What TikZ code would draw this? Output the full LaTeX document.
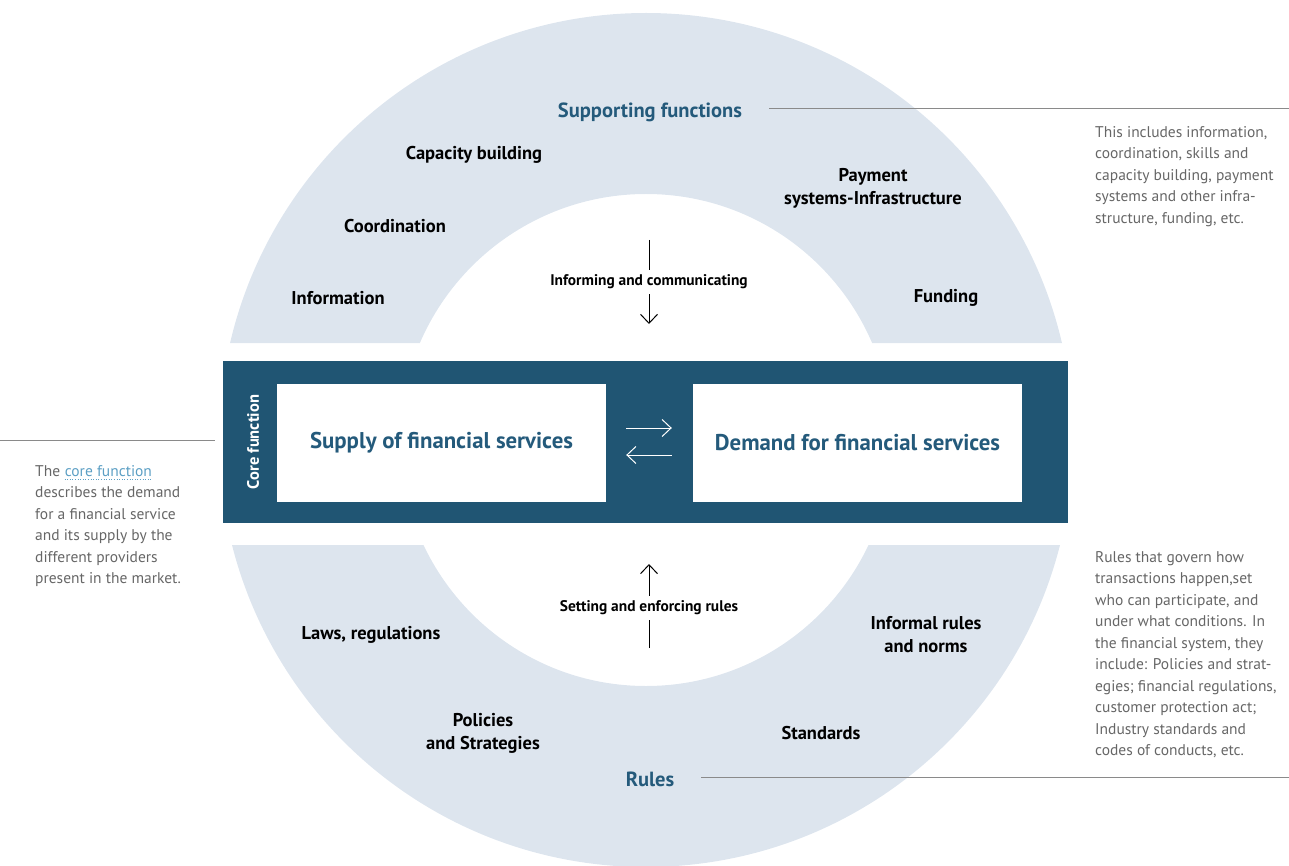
\documentclass[tikz,border=0pt]{standalone}
\usepackage{fontspec}
\setmainfont{PT Sans}
\usetikzlibrary{positioning,arrows.meta}
\definecolor{ringblue}{HTML}{DDE5EE}
\definecolor{coreblue}{HTML}{205573}
\definecolor{headblue}{HTML}{245A7B}
\definecolor{notegray}{HTML}{666666}
\definecolor{linkblue}{HTML}{5C9FC4}
\definecolor{rulegray}{HTML}{8A8A8A}
\newcommand{\dotlink}[1]{\tikz[baseline=(lnk.base)]{\node[inner sep=0pt,text=linkblue] (lnk) {#1};
  \draw[linkblue,dotted,line width=0.6pt] ([yshift=-3pt]lnk.south west) -- ([yshift=-3pt]lnk.south east);}}
\begin{document}
\begin{tikzpicture}
    [
    x=1pt, y=-1pt
    , ringlabel/.style = {font=\fontsize{18.5}{23}\selectfont\bfseries,align=center,inner sep=0pt}
    , headlabel/.style = {font=\fontsize{20.5}{24}\selectfont\bfseries,text=headblue,inner sep=0pt}
    , servicebox/.style = {fill=white,minimum width=329pt,minimum height=118pt,font=\fontsize{22.8}{27}\selectfont\bfseries,text=headblue}
    , flowlabel/.style = {font=\fontsize{15.4}{18}\selectfont\bfseries,inner xsep=0pt,inner ysep=5pt}
    , note/.style = {font=\fontsize{15.5}{21.5}\selectfont,text=notegray,align=left,inner sep=0pt,anchor=north west}
    , flow/.style = {line width=1pt,-{Straight Barb[length=9pt,width=17pt]}}
    ]
\useasboundingbox (0,0) rectangle (1289,866);
% ring of supporting functions and rules
\begin{scope}
\clip (0,0) rectangle (1289,343) (0,545) rectangle (1289,866);
\fill[ringblue,even odd rule] (646,440) circle (427pt) (646,440) circle (246pt);
\end{scope}

% core function
\node[fill=coreblue,minimum width=845pt,minimum height=162pt,inner sep=0pt] (core) at (645.5,442) {};
\node[rotate=90,text=white,font=\fontsize{16.5}{18}\selectfont\bfseries] (corelabel) at (253,442) {Core function};
\node[servicebox] (supply) at (441.5,443) {Supply of financial services};
\node[servicebox] (demand) at (857.5,443) {Demand for financial services};
\draw[flow,white] ([xshift=20pt,yshift=15pt]supply.east) -- ([xshift=-21pt,yshift=15pt]demand.west);
\draw[flow,white] ([xshift=-21pt,yshift=-12pt]demand.west) -- ([xshift=20pt,yshift=-12pt]supply.east);

% supporting functions
\node[headlabel] (supporting) at (650,112) {Supporting functions};
\coordinate (suptail) at (1289,108);
\draw[rulegray,line width=0.8pt] ([xshift=27pt,yshift=4pt]supporting.east) -- (suptail);
\node[ringlabel] (capacity) at (474,155) {Capacity building};
\node[ringlabel] (coordination) at (395,226) {Coordination};
\node[ringlabel] (information) at (338,298) {Information};
\node[ringlabel] (payment) at (873,188) {Payment\\systems-Infrastructure};
\node[ringlabel] (funding) at (946,298) {Funding};

\coordinate (inftop) at (649,240);
\coordinate (infbot) at (649,324);
\node[flowlabel] (inform) at (649,282) {Informing and communicating};
\draw[line width=1pt] (inftop) -- (inform);
\draw[flow] (inform) -- (infbot);

% rules
\node[headlabel] (rules) at (650,779) {Rules};
\coordinate (rulestail) at (1289,777);
\draw[rulegray,line width=0.8pt] ([xshift=27pt,yshift=2pt]rules.east) -- (rulestail);
\node[ringlabel] (laws) at (371,635) {Laws, regulations};
\node[ringlabel] (policies) at (483,733) {Policies\\and Strategies};
\node[ringlabel] (informal) at (926,635) {Informal rules\\and norms};
\node[ringlabel] (standards) at (821,733) {Standards};

\coordinate (settop) at (649,564);
\coordinate (setbot) at (649,648);
\node[flowlabel] (setting) at (649,608) {Setting and enforcing rules};
\draw[line width=1pt] (setbot) -- (setting);
\draw[flow] (setting) -- (settop);

% notes
\coordinate (corehead) at (0,440);
\coordinate (coretail) at (215,440);
\draw[rulegray,line width=0.8pt] (corehead) -- (coretail);
\node[note] (corenote) at (35,465) {The \dotlink{core function}\\describes the demand\\for a financial service\\and its supply by the\\different providers\\present in the market.};
\node[note] (supnote) at (1095,126) {This includes information,\\coordination, skills and\\capacity building, payment\\systems and other infra-\\structure, funding, etc.};
\node[note] (rulesnote) at (1095,551) {Rules that govern how\\transactions happen,set\\who can participate, and\\under what conditions. In\\the financial system, they\\include: Policies and strat-\\egies; financial regulations,\\customer protection act;\\Industry standards and\\codes of conducts, etc.};
\end{tikzpicture}
\end{document}
